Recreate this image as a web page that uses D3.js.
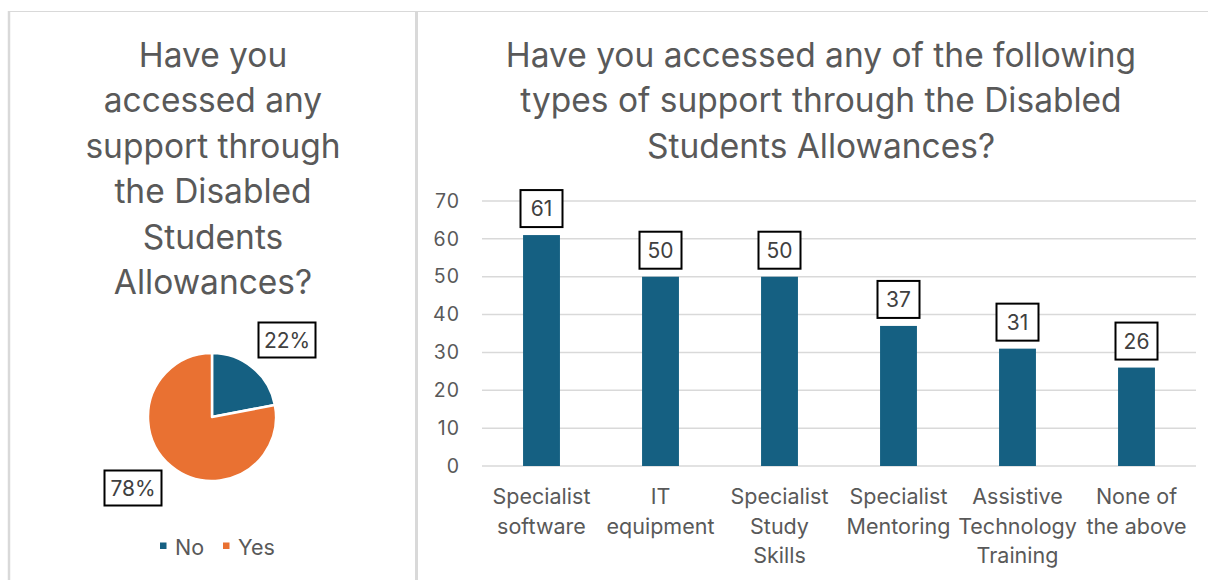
<!DOCTYPE html>
<html>
<head>
<meta charset="utf-8">
<script src="https://cdn.jsdelivr.net/npm/d3@7"></script>
<style>
  html, body { margin: 0; padding: 0; background: #ffffff; }
  svg { display: block; font-family: Inter, "Open Sans", sans-serif; }
</style>
</head>
<body>
<svg id="chart" width="1209" height="580"></svg>
<script>
// Pie: Disabled Students Allowances uptake
const pieCategories = ["No", "Yes"];
const pieValues = [22, 78];
const pieColors = ["#156082", "#E97132"];
const pieTitle = ["Have you", "accessed any", "support through", "the Disabled", "Students", "Allowances?"];

// Bars: types of support accessed
const barCategories = [
  ["Specialist", "software"],
  ["IT", "equipment"],
  ["Specialist", "Study", "Skills"],
  ["Specialist", "Mentoring"],
  ["Assistive", "Technology", "Training"],
  ["None of", "the above"]
];
const barValues = [61, 50, 50, 37, 31, 26];
const yTicks = [0, 10, 20, 30, 40, 50, 60, 70];
const barTitle = ["Have you accessed any of the following", "types of support through the Disabled", "Students Allowances?"];

const textGray = "#595959";
const gridGray = "#D9D9D9";
const barColor = "#156082";
const font = "Inter, 'Open Sans', sans-serif";

const svg = d3.select("#chart");

// Panel frames
svg.append("line").attr("x1", 8).attr("x2", 1208).attr("y1", 11.5).attr("y2", 11.5)
  .attr("stroke", "#D9D9D9").attr("stroke-width", 1.2);
svg.append("line").attr("x1", 9).attr("x2", 9).attr("y1", 11).attr("y2", 580)
  .attr("stroke", "#D9D9D9").attr("stroke-width", 2.5);
svg.append("line").attr("x1", 416.5).attr("x2", 416.5).attr("y1", 11).attr("y2", 580)
  .attr("stroke", "#D9D9D9").attr("stroke-width", 3);

// ---------- Pie panel ----------
const pieG = svg.append("g");
pieG.append("text")
  .attr("text-anchor", "middle")
  .attr("fill", textGray)
  .attr("font-size", 33.5)
  .selectAll("tspan")
  .data(pieTitle)
  .join("tspan")
  .attr("x", 213)
  .attr("y", (d, i) => 67 + i * 45.4)
  .text(d => d);

const cx = 212, cy = 417, r = 64;
const pie = d3.pie().sort(null).value(d => d)(pieValues);
const arc = d3.arc().innerRadius(0).outerRadius(r);
const pieSlices = pieG.append("g").attr("transform", `translate(${cx},${cy})`);
pieSlices.selectAll("path")
  .data(pie)
  .join("path")
  .attr("d", arc)
  .attr("fill", (d, i) => pieColors[i])
  .attr("stroke", "#ffffff")
  .attr("stroke-width", 2.5)
  .attr("stroke-linejoin", "round");

// Pie data labels (boxed, placed outside the slices)
const pieLabelPos = [[287, 340], [133, 488]];
pie.forEach((d, i) => {
  const [lx, ly] = pieLabelPos[i];
  const w = 57, h = 35;
  pieG.append("rect")
    .attr("x", lx - w / 2).attr("y", ly - h / 2)
    .attr("width", w).attr("height", h)
    .attr("fill", "#ffffff").attr("stroke", "#000000").attr("stroke-width", 2);
  pieG.append("text")
    .attr("x", lx).attr("y", ly + 7.5)
    .attr("text-anchor", "middle")
    .attr("font-size", 21)
    .attr("fill", "#404040")
    .text(`${pieValues[i]}%`);
});

// Legend
const legend = pieG.append("g");
const legendX = [160, 223];
pieCategories.forEach((c, i) => {
  legend.append("rect")
    .attr("x", legendX[i]).attr("y", 542.5)
    .attr("width", 6.5).attr("height", 6.5)
    .attr("fill", pieColors[i]);
  legend.append("text")
    .attr("x", legendX[i] + 15).attr("y", 554.5)
    .attr("font-size", 21.5)
    .attr("fill", textGray)
    .text(c);
});

// ---------- Bar panel ----------
const barG = svg.append("g");
barG.append("text")
  .attr("text-anchor", "middle")
  .attr("fill", textGray)
  .attr("font-size", 33.5)
  .selectAll("tspan")
  .data(barTitle)
  .join("tspan")
  .attr("x", 821)
  .attr("y", (d, i) => 67 + i * 45.4)
  .text(d => d);

const x = d3.scaleBand()
  .domain(d3.range(barCategories.length))
  .range([482, 1196])
  .paddingInner(0.69)
  .paddingOuter(0.345);
const y = d3.scaleLinear().domain([0, 70]).range([466, 201]);

// Gridlines
barG.append("g")
  .selectAll("line")
  .data(yTicks)
  .join("line")
  .attr("x1", 482).attr("x2", 1196)
  .attr("y1", d => y(d)).attr("y2", d => y(d))
  .attr("stroke", gridGray).attr("stroke-width", 1.5);

// Y axis labels
const yAxis = d3.axisLeft(y).tickValues(yTicks).tickSize(0).tickPadding(22);
const yAxisG = barG.append("g").attr("transform", "translate(482,0)").call(yAxis);
yAxisG.select(".domain").remove();
yAxisG.selectAll("text")
  .attr("font-size", 19.5)
  .attr("letter-spacing", 1)
  .attr("font-family", font)
  .attr("fill", textGray);

// Bars
barG.append("g")
  .selectAll("rect")
  .data(barValues)
  .join("rect")
  .attr("x", (d, i) => x(i))
  .attr("width", x.bandwidth())
  .attr("y", d => y(d))
  .attr("height", d => y(0) - y(d))
  .attr("fill", barColor);

// Value labels
barValues.forEach((v, i) => {
  const lx = x(i) + x.bandwidth() / 2;
  const w = 42, h = 37;
  const by = y(v) - 8 - h;
  barG.append("rect")
    .attr("x", lx - w / 2).attr("y", by)
    .attr("width", w).attr("height", h)
    .attr("fill", "#ffffff").attr("stroke", "#000000").attr("stroke-width", 2);
  barG.append("text")
    .attr("x", lx).attr("y", by + h / 2 + 7.5)
    .attr("text-anchor", "middle")
    .attr("font-size", 21)
    .attr("fill", "#404040")
    .text(v);
});

// Category labels
barG.append("g")
  .selectAll("text")
  .data(barCategories)
  .join("text")
  .attr("text-anchor", "middle")
  .attr("font-size", 21.5)
  .attr("fill", textGray)
  .each(function(lines, i) {
    d3.select(this).selectAll("tspan")
      .data(lines)
      .join("tspan")
      .attr("x", x(i) + x.bandwidth() / 2)
      .attr("y", (d, j) => 504 + j * 29.5)
      .text(d => d);
  });
</script>
</body>
</html>
